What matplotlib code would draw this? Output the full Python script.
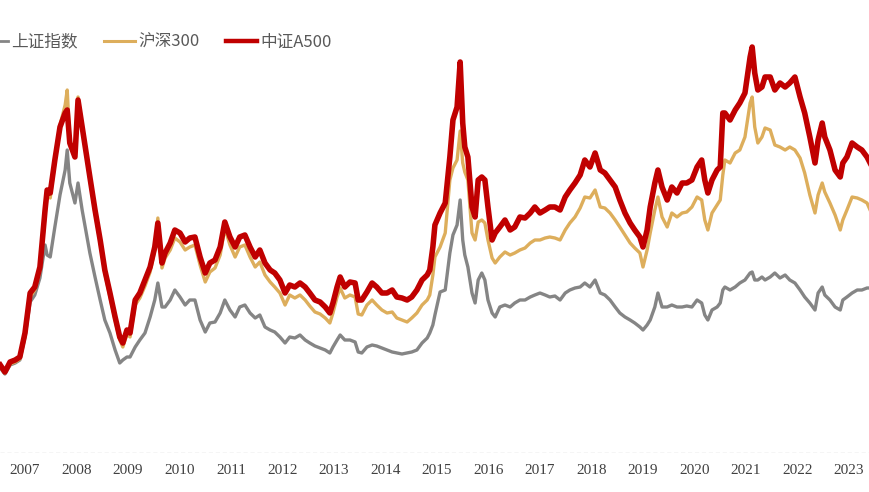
import matplotlib
matplotlib.use("Agg")
import matplotlib.pyplot as plt
from matplotlib.lines import Line2D

# decimal-year dates
dates = [2006.52, 2006.61, 2006.71, 2006.81, 2006.90, 2007.00, 2007.10, 2007.19, 2007.29, 2007.39,
         2007.43, 2007.49, 2007.58, 2007.68, 2007.78, 2007.82, 2007.87, 2007.97, 2008.03, 2008.11,
         2008.17, 2008.26, 2008.36, 2008.46, 2008.55, 2008.65, 2008.75, 2008.84, 2008.90, 2008.98,
         2009.04, 2009.14, 2009.23, 2009.33, 2009.43, 2009.52, 2009.58, 2009.66, 2009.72, 2009.82,
         2009.91, 2010.01, 2010.11, 2010.20, 2010.30, 2010.40, 2010.50, 2010.59, 2010.69, 2010.79,
         2010.88, 2010.98, 2011.08, 2011.17, 2011.27, 2011.37, 2011.47, 2011.56, 2011.66, 2011.76,
         2011.85, 2011.95, 2012.05, 2012.14, 2012.24, 2012.34, 2012.44, 2012.53, 2012.63, 2012.73,
         2012.83, 2012.92, 2012.98, 2013.06, 2013.12, 2013.21, 2013.31, 2013.41, 2013.47, 2013.54,
         2013.64, 2013.74, 2013.83, 2013.93, 2014.03, 2014.13, 2014.22, 2014.32, 2014.42, 2014.51,
         2014.61, 2014.71, 2014.81, 2014.86, 2014.92, 2014.96, 2015.06, 2015.16, 2015.25, 2015.31,
         2015.39, 2015.45, 2015.50, 2015.54, 2015.60, 2015.68, 2015.74, 2015.80, 2015.87, 2015.93,
         2015.99, 2016.07, 2016.13, 2016.22, 2016.32, 2016.42, 2016.51, 2016.61, 2016.71, 2016.81,
         2016.90, 2017.00, 2017.10, 2017.19, 2017.29, 2017.39, 2017.49, 2017.58, 2017.68, 2017.78,
         2017.87, 2017.97, 2018.07, 2018.17, 2018.26, 2018.36, 2018.46, 2018.55, 2018.65, 2018.75,
         2018.84, 2018.94, 2019.00, 2019.08, 2019.14, 2019.23, 2019.29, 2019.37, 2019.47, 2019.56,
         2019.66, 2019.76, 2019.85, 2019.95, 2020.05, 2020.14, 2020.20, 2020.26, 2020.34, 2020.44,
         2020.50, 2020.55, 2020.59, 2020.69, 2020.79, 2020.88, 2020.98, 2021.08, 2021.12, 2021.17,
         2021.23, 2021.31, 2021.37, 2021.47, 2021.56, 2021.66, 2021.76, 2021.85, 2021.95, 2022.05,
         2022.14, 2022.24, 2022.34, 2022.40, 2022.48, 2022.53, 2022.63, 2022.73, 2022.83, 2022.88,
         2022.96, 2023.06, 2023.16, 2023.25, 2023.35, 2023.41]

a500 = [88, 81, 91, 93, 96, 120, 160, 166, 186, 243,
        263, 260, 293, 326, 340, 343, 310, 296, 353, 326,
        306, 276, 243, 213, 183, 160, 136, 116, 110, 123,
        120, 153, 160, 173, 186, 206, 230, 190, 200, 210,
        223, 220, 211, 215, 216, 196, 180, 190, 193, 206,
        231, 216, 206, 216, 218, 206, 196, 203, 190, 183,
        180, 173, 160, 168, 166, 170, 166, 160, 153, 151,
        146, 140, 150, 166, 176, 166, 171, 170, 153, 153,
        161, 170, 166, 160, 160, 163, 156, 155, 153, 156,
        163, 173, 178, 183, 206, 228, 240, 250, 296, 333,
        346, 391, 330, 306, 296, 246, 236, 273, 276, 273,
        246, 213, 220, 226, 233, 223, 226, 236, 235, 240,
        246, 240, 243, 246, 246, 243, 256, 263, 270, 278,
        293, 286, 300, 283, 280, 273, 266, 253, 240, 230,
        223, 216, 206, 223, 246, 270, 283, 266, 253, 266,
        260, 270, 270, 273, 286, 293, 273, 260, 273, 283,
        286, 340, 340, 333, 343, 350, 360, 396, 406, 380,
        363, 366, 376, 376, 363, 370, 366, 370, 376, 356,
        340, 316, 290, 313, 330, 316, 303, 283, 276, 290,
        296, 310, 306, 303, 296, 290]

hs300 = [86, 80, 89, 91, 94, 117, 156, 163, 182, 238,
         258, 255, 290, 328, 348, 363, 313, 298, 356, 328,
         305, 273, 240, 210, 180, 156, 133, 113, 106, 119,
         116, 148, 155, 167, 181, 203, 235, 185, 195, 203,
         215, 211, 203, 206, 208, 188, 171, 181, 185, 198,
         225, 208, 196, 206, 208, 196, 186, 191, 178, 171,
         166, 160, 148, 158, 155, 158, 153, 147, 141, 139,
         135, 130, 140, 156, 165, 155, 158, 156, 139, 138,
         148, 153, 148, 143, 140, 141, 135, 133, 131, 135,
         140, 148, 153, 158, 178, 196, 206, 220, 273, 285,
         293, 322, 290, 281, 273, 220, 213, 231, 233, 230,
         213, 195, 190, 196, 201, 198, 200, 203, 205, 210,
         213, 213, 215, 216, 215, 213, 223, 230, 236, 245,
         256, 255, 263, 246, 245, 240, 233, 226, 218, 210,
         205, 200, 186, 203, 220, 243, 256, 236, 226, 240,
         236, 240, 241, 246, 256, 253, 233, 223, 240, 248,
         253, 278, 293, 290, 300, 303, 316, 350, 356, 326,
         310, 316, 325, 323, 308, 306, 303, 306, 303, 295,
         280, 258, 240, 258, 270, 261, 250, 238, 223, 233,
         243, 256, 255, 253, 250, 243]

sse = [85, 79, 88, 90, 93, 116, 151, 158, 175, 208,
       198, 196, 226, 258, 283, 303, 270, 250, 270, 243,
       226, 200, 176, 153, 133, 120, 103, 90, 93, 96,
       96, 106, 113, 120, 136, 153, 170, 146, 146, 153,
       163, 156, 148, 153, 153, 133, 121, 130, 131, 140,
       153, 143, 136, 146, 148, 140, 135, 138, 126, 123,
       121, 116, 110, 116, 115, 118, 113, 110, 107, 105,
       103, 100, 106, 113, 118, 113, 113, 111, 101, 100,
       106, 108, 107, 105, 103, 101, 100, 99, 100, 101,
       103, 110, 115, 120, 128, 138, 161, 163, 200, 218,
       228, 253, 213, 198, 186, 160, 150, 173, 180, 173,
       153, 140, 136, 146, 148, 146, 150, 153, 153, 156,
       158, 160, 158, 156, 157, 153, 160, 163, 165, 166,
       170, 166, 173, 160, 158, 153, 146, 140, 136, 133,
       130, 126, 123, 128, 133, 146, 160, 146, 146, 148,
       146, 146, 147, 146, 153, 150, 138, 133, 143, 146,
       150, 163, 166, 163, 166, 170, 173, 180, 181, 173,
       173, 176, 173, 176, 180, 175, 178, 173, 170, 163,
       156, 150, 143, 160, 166, 158, 153, 146, 143, 153,
       156, 160, 163, 163, 165, 165]

years = list(range(2007, 2024))
labels = ["上证指数", "沪深300", "中证A500"]
colors = ["#858585", "#DDAE5C", "#C00000"]

W, H = 870, 492
fig = plt.figure(figsize=(W / 100, H / 100), dpi=100)
ax_bottom_px, ax_top_px = 453, 20
ax = fig.add_axes([0, (H - ax_bottom_px) / H, 1, (ax_bottom_px - ax_top_px) / H])

ax.plot(dates, sse, color=colors[0], lw=2.4, solid_joinstyle="round", zorder=2)
ax.plot(dates, hs300, color=colors[1], lw=2.4, solid_joinstyle="round", zorder=3)
ax.plot(dates, a500, color=colors[2], lw=4.0, solid_joinstyle="round", zorder=4)

ax.set_xlim(2006.515, 2023.408)
ax.set_ylim(0, ax_bottom_px - ax_top_px)
ax.axhline(0, color="#cfcfcf", lw=1.0, ls=(0, (3, 2)), zorder=1)
for s in ax.spines.values():
    s.set_visible(False)
ax.set_yticks([])
ax.set_xticks(years)
ax.set_xticklabels([str(y) for y in years], family=["Liberation Serif"], fontsize=11, color="#404040")
ax.tick_params(axis="x", length=0, pad=8)
ax.patch.set_alpha(0)

handles = [Line2D([], [], color=colors[0], lw=2.0),
           Line2D([], [], color=colors[1], lw=2.2),
           Line2D([], [], color=colors[2], lw=3.2)]
leg = fig.legend(handles, labels, loc="center left", bbox_to_anchor=(-32 / W, 1 - 42 / H),
                 bbox_transform=fig.transFigure, ncol=3, frameon=False, borderpad=0,
                 handlelength=1.9, handletextpad=0.2, columnspacing=1.55,
                 prop={"family": ["Noto Sans CJK SC", "DejaVu Sans"], "size": 12})
for t in leg.get_texts():
    t.set_color("#595959")

fig.savefig("out.png", dpi=100)
